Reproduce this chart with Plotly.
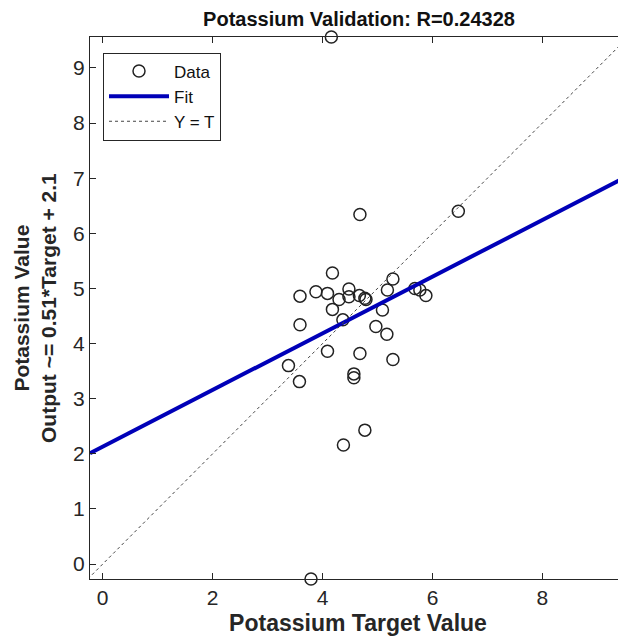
import plotly.graph_objects as go

# Data
target = [4.18, 3.88, 3.59, 4.09, 4.48, 4.30, 4.48, 4.67, 4.77, 4.79,
          5.28, 5.18, 5.68, 5.77, 5.88, 4.18, 4.37, 5.09, 3.59, 4.97,
          5.17, 4.09, 4.68, 5.28, 3.38, 4.57, 4.57, 3.58, 4.77, 4.38,
          4.68, 6.47, 4.16, 3.79]
output = [5.28, 4.94, 4.86, 4.91, 4.99, 4.80, 4.85, 4.87, 4.82, 4.80,
          5.17, 4.97, 5.00, 4.97, 4.87, 4.62, 4.43, 4.61, 4.34, 4.31,
          4.17, 3.86, 3.82, 3.71, 3.60, 3.45, 3.38, 3.31, 2.43, 2.16,
          6.34, 6.40, 9.56, -0.27]

fit_slope = 0.514
fit_intercept = 2.13
x_limits = [-0.23, 9.52]
y_limits = [-0.27, 9.56]
tick_vals = [0, 2, 4, 6, 8]
ytick_vals = [0, 1, 2, 3, 4, 5, 6, 7, 8, 9]

FONT = "Liberation Sans, Arial, sans-serif"
AX = "#262626"

fit_x = x_limits
fit_y = [fit_slope * v + fit_intercept for v in fit_x]
ident = [min(x_limits[0], y_limits[0]), max(x_limits[1], y_limits[1])]

fig = go.Figure()
fig.add_trace(go.Scatter(
    x=target, y=output, mode="markers", name="Data",
    marker=dict(symbol="circle-open", size=12, color="#222222",
                line=dict(width=1.5, color="#222222")),
    cliponaxis=False,
))
fig.add_trace(go.Scatter(
    x=fit_x, y=fit_y, mode="lines", name="Fit",
    line=dict(color="#0000b8", width=4),
))
fig.add_trace(go.Scatter(
    x=ident, y=ident, mode="lines", name="Y = T",
    line=dict(color="#444444", width=1, dash="dot"),
))

axis_common = dict(
    showgrid=False, zeroline=False, automargin=False,
    showline=True, linecolor=AX, linewidth=1, mirror="ticks",
    ticks="inside", ticklen=6, tickcolor=AX, tickwidth=1,
    tickfont=dict(family=FONT, size=21, color="#262626"),
)

# page body has an 8px offset; plot area targets page x 90..626, y 37..579
fig.update_layout(
    width=626, height=640,
    paper_bgcolor="white", plot_bgcolor="white",
    margin=dict(l=82, r=8, t=29, b=69),
    title=dict(text="<b>Potassium Validation: R=0.24328</b>",
               x=351 / 626, xanchor="center", y=1, yanchor="top",
               yref="container", pad=dict(t=4, b=0),
               font=dict(family=FONT, size=20, color="#111111")),
    xaxis=dict(**axis_common, range=x_limits, tickvals=tick_vals,
               title=dict(text="<b>Potassium Target Value</b>", standoff=6,
                          font=dict(family=FONT, size=23, color="#262626"))),
    yaxis=dict(**axis_common, range=y_limits, tickvals=ytick_vals),
    legend=dict(x=13 / 536, y=1 - 15.5 / 542, xanchor="left", yanchor="top",
                bordercolor=AX, borderwidth=1, bgcolor="white",
                itemwidth=60, tracegroupgap=0,
                font=dict(family=FONT, size=17, color="#111111")),
    showlegend=True,
)

fig.add_annotation(
    text="<b>Potassium Value<br>Output ~= 0.51*Target + 2.1</b>",
    xref="paper", yref="paper", x=(27 - 82) / 536, y=0.5,
    xanchor="center", yanchor="middle", textangle=-90, showarrow=False,
    font=dict(family=FONT, size=21, color="#262626"),
)

fig.write_html("out.html")
